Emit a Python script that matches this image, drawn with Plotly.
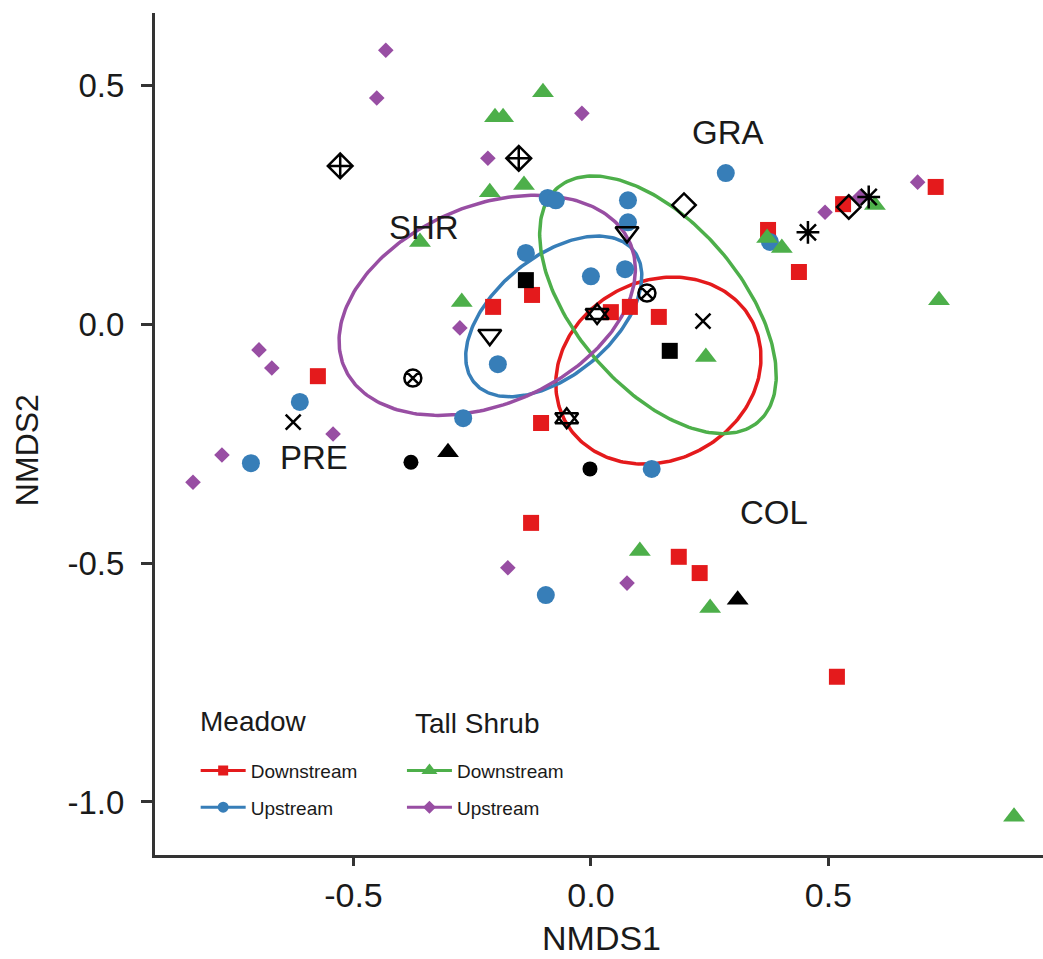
import numpy as np
import plotly.graph_objects as go

# ---- NMDS site scores -------------------------------------------------------
# Meadow, downstream
meadow_down_x = [-0.575, -0.206, -0.124, -0.105, -0.126, 0.042, 0.082, 0.143,
                 0.185, 0.229, 0.518, 0.373, 0.438, 0.531, 0.726]
meadow_down_y = [-0.109, 0.036, 0.061, -0.207, -0.416, 0.025, 0.036, 0.015,
                 -0.487, -0.521, -0.738, 0.197, 0.109, 0.251, 0.287]
# Meadow, upstream
meadow_up_x = [-0.716, -0.613, -0.269, -0.196, -0.137, -0.091, -0.074, 0.000,
               0.072, 0.078, 0.078, 0.128, -0.095, 0.284, 0.377]
meadow_up_y = [-0.291, -0.163, -0.197, -0.084, 0.149, 0.264, 0.259, 0.100,
               0.115, 0.213, 0.259, -0.303, -0.567, 0.316, 0.172]
# Tall shrub, downstream
shrub_down_x = [-0.101, -0.202, -0.185, -0.213, -0.141, -0.360, -0.272, 0.371,
                0.402, 0.598, 0.733, 0.242, 0.103, 0.251, 0.891]
shrub_down_y = [0.485, 0.433, 0.433, 0.276, 0.291, 0.172, 0.046, 0.180,
                0.159, 0.249, 0.050, -0.069, -0.475, -0.594, -1.031]
# Tall shrub, upstream
shrub_up_x = [-0.432, -0.451, -0.019, -0.217, -0.276, -0.699, -0.672, -0.543,
              -0.777, -0.838, -0.175, 0.076, 0.493, 0.566, 0.688]
shrub_up_y = [0.573, 0.473, 0.441, 0.347, -0.008, -0.054, -0.092, -0.230,
              -0.274, -0.331, -0.510, -0.542, 0.234, 0.266, 0.297]

# Paired reference plots (two per symbol)
ref_shape = ["diamond-plus", "diamond-plus", "circle-cross", "circle-cross",
             "triangle-down", "triangle-down", "star", "star",
             "cross", "cross", "square", "square", "dot", "dot",
             "triangle", "triangle", "diamond", "diamond",
             "asterisk", "asterisk"]
ref_x = [-0.528, -0.152, -0.375, 0.118, 0.076, -0.213, 0.013, -0.051,
         0.236, -0.627, -0.137, 0.166, -0.379, -0.002, -0.301, 0.309,
         0.196, 0.543, 0.457, 0.585]
ref_y = [0.331, 0.347, -0.113, 0.065, 0.192, -0.023, 0.021, -0.197,
         0.006, -0.205, 0.092, -0.056, -0.289, -0.303, -0.268, -0.577,
         0.249, 0.245, 0.192, 0.266]

# Vegetation-type labels
veg_labels = ["SHR", "GRA", "PRE", "COL"]
veg_label_x = [-0.352, 0.288, -0.583, 0.385]
veg_label_y = [0.203, 0.400, -0.280, -0.395]

# Axis ticks
tick_vals = [-1.0, -0.5, 0.0, 0.5]
tick_text = ["-1.0", "-0.5", "0.0", "0.5"]

RED, BLUE, GREEN, PURPLE = "#E41A1C", "#377EB8", "#4DAF4A", "#984EA3"
FONT = "Liberation Sans, Arial, sans-serif"
INK = "#1a1a1a"
AX = "#333333"


def se_ellipse(xs, ys, conf=0.95, n=240):
    """Standard-error ellipse of the group centroid (ordiellipse, kind='se')."""
    pts = np.column_stack([xs, ys])
    centre = pts.mean(axis=0)
    cov = np.cov(pts.T) / len(pts)
    scale = np.sqrt(-2.0 * np.log(1.0 - conf))  # sqrt(qchisq(conf, 2))
    vals, vecs = np.linalg.eigh(cov)
    t = np.linspace(0, 2 * np.pi, n)
    circ = np.vstack([np.cos(t), np.sin(t)])
    e = vecs @ np.diag(np.sqrt(vals)) @ circ * scale
    return centre[0] + e[0], centre[1] + e[1]


groups = [
    ("Meadow", "Downstream", meadow_down_x, meadow_down_y, RED, "square", 16, 10, "legend"),
    ("Meadow", "Upstream", meadow_up_x, meadow_up_y, BLUE, "circle", 18, 11, "legend"),
    ("Tall Shrub", "Downstream", shrub_down_x, shrub_down_y, GREEN, "triangle-up", 19, 14, "legend2"),
    ("Tall Shrub", "Upstream", shrub_up_x, shrub_up_y, PURPLE, "diamond", 12, 10, "legend2"),
]

fig = go.Figure()

# ellipses
for veg, pos, xs, ys, col, sym, ms, lms, lg in groups:
    ex, ey = se_ellipse(xs, ys)
    fig.add_trace(go.Scatter(x=ex, y=ey, mode="lines", line=dict(color=col, width=3.5),
                             showlegend=False, hoverinfo="skip"))

# group points
for veg, pos, xs, ys, col, sym, ms, lms, lg in groups:
    fig.add_trace(go.Scatter(x=xs, y=ys, mode="markers", name=f"{veg} {pos}",
                             marker=dict(symbol=sym, size=ms, color=col, line=dict(width=0)),
                             showlegend=False))

# reference plots in black
style = {
    "diamond-plus": [("diamond-cross-open", 19)],
    "circle-cross": [("circle-x-open", 17)],
    "triangle-down": [("triangle-down-open", 20)],
    "star": [("triangle-up-open", 20), ("triangle-down-open", 20)],
    "cross": [("x-thin-open", 15)],
    "square": [("square", 16)],
    "dot": [("circle", 15)],
    "triangle": [("triangle-up", 19)],
    "diamond": [("diamond-open", 18)],
    "asterisk": [("asterisk-open", 19)],
}
ref_shape_arr = np.array(ref_shape)
ref_x_arr = np.array(ref_x)
ref_y_arr = np.array(ref_y)
for key, layers in style.items():
    m = ref_shape_arr == key
    for sym, size in layers:
        open_sym = sym.endswith("-open")
        fig.add_trace(go.Scatter(
            x=ref_x_arr[m], y=ref_y_arr[m], mode="markers", showlegend=False,
            marker=dict(symbol=sym, size=size, color="black",
                        line=dict(color="black", width=2.5 if open_sym else 0))))

# legend entries
for veg, pos, xs, ys, col, sym, ms, lms, lg in groups:
    fig.add_trace(go.Scatter(x=[None], y=[None], mode="lines+markers", name=pos,
                             legend=lg, legendgroup=f"{veg}-{pos}",
                             line=dict(color=col, width=3),
                             marker=dict(symbol=sym, size=lms, color=col, line=dict(width=0))))

annotations = []
for lab, lx, ly in zip(veg_labels, veg_label_x, veg_label_y):
    annotations.append(dict(x=lx, y=ly, xref="x", yref="y", text=lab, showarrow=False,
                            font=dict(family=FONT, size=33, color=INK)))

# legend titles
annotations.append(dict(x=0.0484, y=0.158, xref="paper", yref="paper", text="Meadow",
                        xanchor="left", yanchor="middle", showarrow=False,
                        font=dict(family=FONT, size=28, color=INK)))
annotations.append(dict(x=0.2905, y=0.1556, xref="paper", yref="paper", text="Tall Shrub",
                        xanchor="left", yanchor="middle", showarrow=False,
                        font=dict(family=FONT, size=28, color=INK)))
# axis titles
annotations.append(dict(x=0.503, y=-0.0985, xref="paper", yref="paper", text="NMDS1",
                        xanchor="center", yanchor="middle", showarrow=False,
                        font=dict(family=FONT, size=34, color=INK)))
annotations.append(dict(x=-0.144, y=0.481, xref="paper", yref="paper", text="NMDS2",
                        textangle=-90, xanchor="center", yanchor="middle", showarrow=False,
                        font=dict(family=FONT, size=32, color=INK)))

legend_common = dict(xanchor="left", yanchor="top", bgcolor="rgba(0,0,0,0)",
                     font=dict(family=FONT, size=19, color=INK), itemwidth=45,
                     traceorder="grouped", tracegroupgap=9, orientation="v")

fig.update_layout(
    width=1043, height=959,
    margin=dict(l=155, r=0, t=13, b=104),
    paper_bgcolor="white", plot_bgcolor="white",
    showlegend=True,
    legend=dict(x=0.0458, y=0.1228, **legend_common),
    legend2=dict(x=0.2781, y=0.1228, **legend_common),
    annotations=annotations,
    xaxis=dict(range=[-0.918, 0.952], tickvals=tick_vals[1:], ticktext=tick_text[1:],
               showgrid=False, zeroline=False, showline=True, linewidth=3, linecolor=AX,
               ticks="outside", ticklen=8, tickwidth=3, tickcolor=AX,
               ticklabelstandoff=0, tickfont=dict(family=FONT, size=34, color=INK)),
    yaxis=dict(range=[-1.111, 0.651], tickvals=tick_vals, ticktext=tick_text,
               showgrid=False, zeroline=False, showline=True, linewidth=3, linecolor=AX,
               ticks="outside", ticklen=11, tickwidth=3, tickcolor=AX,
               ticklabelstandoff=10, tickfont=dict(family=FONT, size=33, color=INK)),
)

fig.write_html("out.html")
